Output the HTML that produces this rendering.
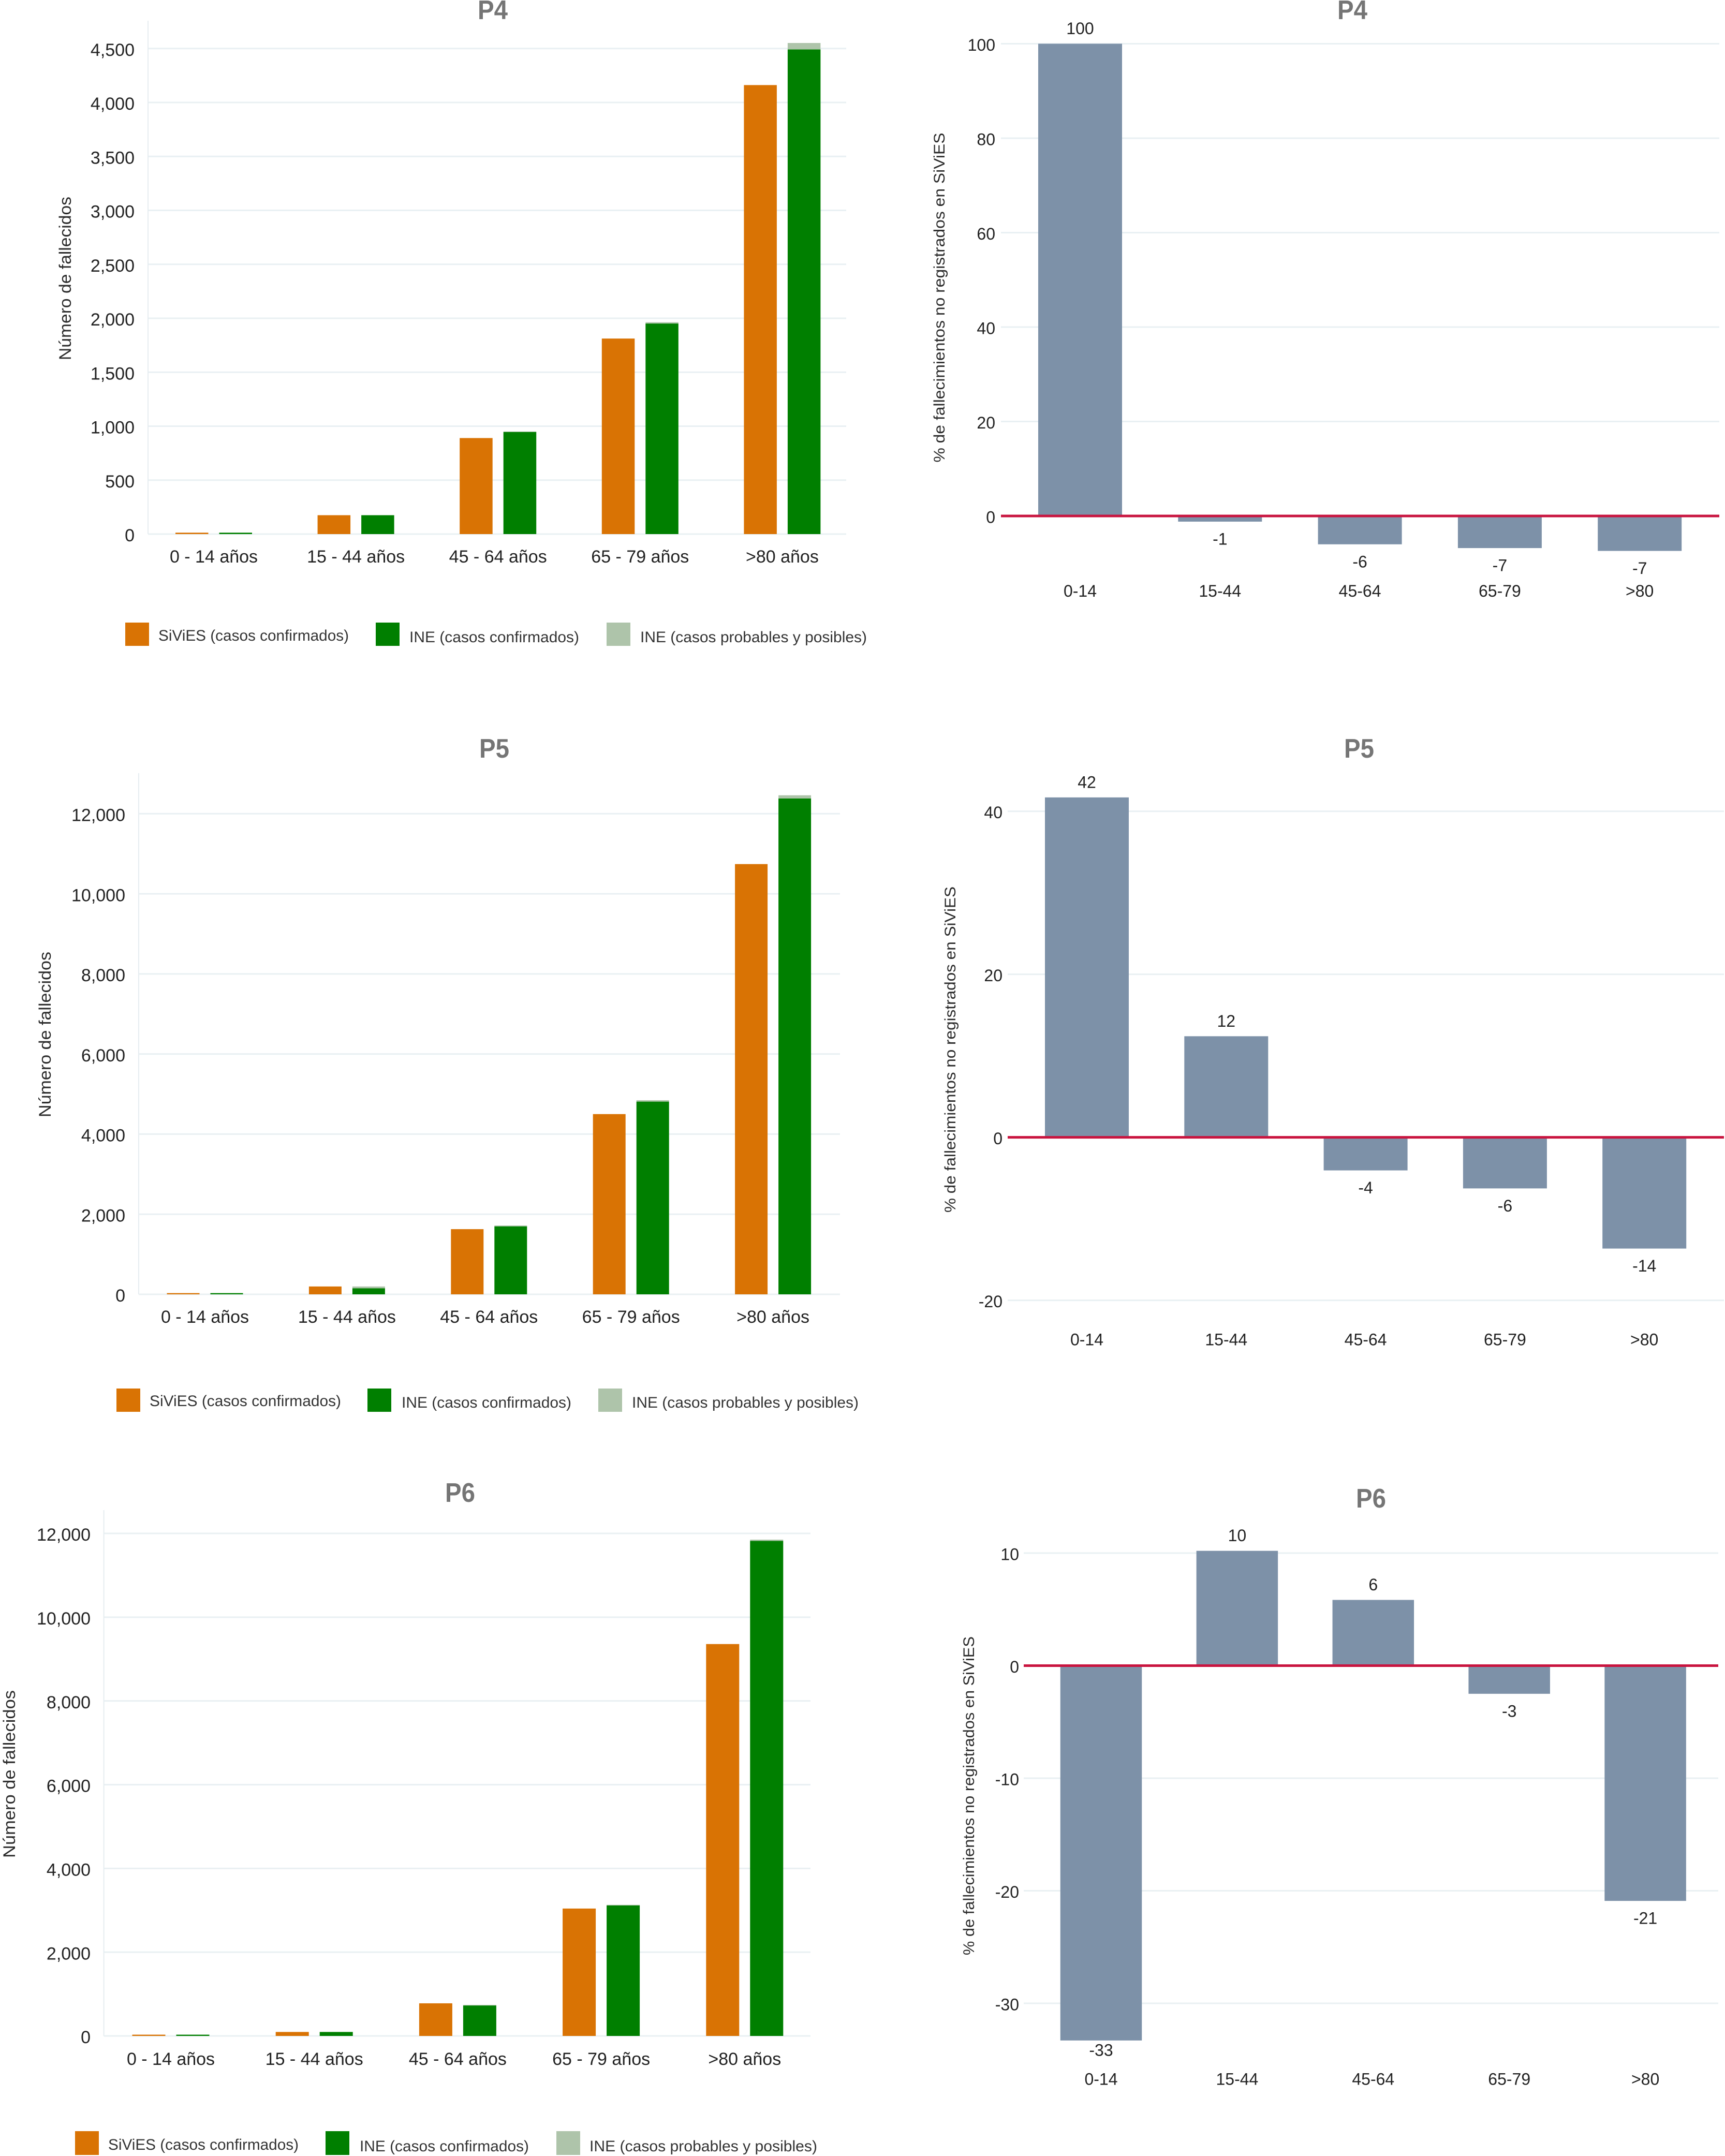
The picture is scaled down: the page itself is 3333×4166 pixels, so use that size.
<!DOCTYPE html>
<html lang="es">
<head>
<meta charset="utf-8">
<title>Fallecidos por grupo de edad: P4, P5, P6</title>
<style>
  html, body { margin: 0; padding: 0; background: #fff; }
  svg { display: block; font-family: "Liberation Sans", sans-serif; }
</style>
</head>
<body>
<svg id="figure" xmlns="http://www.w3.org/2000/svg" width="3333" height="4166" viewBox="0 0 3333 4166"></svg>
<script>
// ---------- data ----------
const ageLabels = ['0 - 14 años', '15 - 44 años', '45 - 64 años', '65 - 79 años', '>80 años'];
const ageLabelsShort = ['0-14', '15-44', '45-64', '65-79', '>80'];
const legendLabels = ['SiViES (casos confirmados)', 'INE (casos confirmados)', 'INE (casos probables y posibles)'];

const p4Ticks = [0, 500, 1000, 1500, 2000, 2500, 3000, 3500, 4000, 4500];
const p4Sivies = [13, 175, 890, 1812, 4161];
const p4IneConfirmed = [13, 175, 946, 1951, 4491];
const p4IneProbable = [0, 0, 5, 12, 60];

const p5Ticks = [0, 2000, 4000, 6000, 8000, 10000, 12000];
const p5Sivies = [30, 196, 1627, 4500, 10742];
const p5IneConfirmed = [30, 150, 1696, 4811, 12380];
const p5IneProbable = [0, 46, 23, 35, 80];

const p6Ticks = [0, 2000, 4000, 6000, 8000, 10000, 12000];
const p6Sivies = [30, 95, 779, 3042, 9358];
const p6IneConfirmed = [30, 95, 726, 3116, 11821];
const p6IneProbable = [0, 0, 15, 15, 30];

const p4DiffTicks = [0, 20, 40, 60, 80, 100];
const p4DiffValues = [100, -1.2, -6, -6.8, -7.4];
const p4DiffLabels = ['100', '-1', '-6', '-7', '-7'];

const p5DiffTicks = [-20, 0, 20, 40];
const p5DiffValues = [41.7, 12.4, -4.06, -6.27, -13.65];
const p5DiffLabels = ['42', '12', '-4', '-6', '-14'];

const p6DiffTicks = [-30, -20, -10, 0, 10];
const p6DiffValues = [-33.3, 10.2, 5.84, -2.5, -20.9];
const p6DiffLabels = ['-33', '10', '6', '-3', '-21'];

// ---------- drawing helpers ----------
const NS = 'http://www.w3.org/2000/svg';
const root = document.getElementById('figure');
const COLORS = { orange: '#d97304', green: '#007f00', light: '#aec4aa', slate: '#7d91a8', red: '#c9143f', grid: '#e9f0f3', axis: '#e6edf1' };

function group(parent, name) {
  const el = document.createElementNS(NS, 'g');
  
  
  parent.appendChild(el);
  return el;
}
function rect(parent, x, y, w, h, fill, name) {
  const el = document.createElementNS(NS, 'rect');
  el.setAttribute('x', x);
  el.setAttribute('y', y);
  el.setAttribute('width', w);
  el.setAttribute('height', h);
  el.setAttribute('fill', fill);
  
  
  parent.appendChild(el);
  return el;
}
function line(parent, x1, y1, x2, y2, stroke, width, name) {
  const el = document.createElementNS(NS, 'line');
  el.setAttribute('x1', x1);
  el.setAttribute('y1', y1);
  el.setAttribute('x2', x2);
  el.setAttribute('y2', y2);
  el.setAttribute('stroke', stroke);
  el.setAttribute('stroke-width', width);
  
  
  parent.appendChild(el);
  return el;
}
function label(parent, x, y, str, size, anchor, fill, name, fit, weight, rotate) {
  const el = document.createElementNS(NS, 'text');
  el.setAttribute('x', x);
  el.setAttribute('y', y);
  el.setAttribute('font-size', size);
  el.setAttribute('text-anchor', anchor);
  el.setAttribute('fill', fill);
  if (fit) { el.setAttribute('textLength', fit); el.setAttribute('lengthAdjust', 'spacingAndGlyphs'); }
  if (weight) el.setAttribute('font-weight', weight);
  if (rotate) el.setAttribute('transform', 'rotate(-90 ' + x + ' ' + y + ')');
  el.textContent = str;
  
  
  parent.appendChild(el);
  return el;
}
function midBase(y, size) { return y + size * 0.36; }
function fmt(v) { return String(v).replace(/\B(?=(\d{3})+(?!\d))/g, ','); }

// ---------- grouped bars (left column) ----------
function drawCounts(cfg) {
  const g = group(root, cfg.id + '-count-chart');
  const yScale = v => cfg.y0 - v * (cfg.y0 - cfg.yRef) / cfg.vRef;
  const xCenter = i => cfg.c0 + cfg.step * i;

  label(g, cfg.titleX, cfg.titleBase, cfg.title, 52, 'middle', '#757575', cfg.id + '-count-title', 58, 'bold');
  label(g, cfg.yTitleX + 11, cfg.yTitleC, 'Número de fallecidos', 32, 'middle', '#2b2b2b', 'y-axis-title', cfg.yTitleLen, null, true);

  cfg.ticks.forEach(t => {
    if (t !== 0) line(g, cfg.axisX, yScale(t), cfg.right, yScale(t), COLORS.grid, 3, 'gridline-' + t);
    label(g, cfg.tickRight, midBase(yScale(t), 34) + 2, fmt(t), 34, 'end', '#222', 'y-tick-' + t);
  });
  line(g, cfg.axisX, cfg.top, cfg.axisX, cfg.y0, COLORS.axis, 2, 'y-axis-line');
  line(g, cfg.axisX, cfg.y0, cfg.right, cfg.y0, COLORS.grid, 3, 'x-axis-line');

  ageLabels.forEach((cat, i) => {
    const c = xCenter(i);
    const orangeTop = yScale(cfg.sivies[i]);
    const greenTop = yScale(cfg.ine[i]);
    const probTop = yScale(cfg.ine[i] + cfg.prob[i]);
    const bw = cfg.barW, gap = cfg.gap;
    rect(g, c - gap / 2 - bw, orangeTop, bw, cfg.y0 - orangeTop, COLORS.orange, 'bar-sivies-' + ageLabelsShort[i]);
    rect(g, c + gap / 2, probTop, bw, greenTop - probTop, COLORS.light, 'bar-ine-probable-' + ageLabelsShort[i]);
    rect(g, c + gap / 2, greenTop, bw, cfg.y0 - greenTop, COLORS.green, 'bar-ine-confirmed-' + ageLabelsShort[i]);
    label(g, c, midBase(cfg.xLabelY, 34), cat, 34, 'middle', '#222', 'x-tick-' + ageLabelsShort[i]);
  });

  const legend = group(g, 'legend');
  const colors = [COLORS.orange, COLORS.green, COLORS.light];
  legendLabels.forEach((txt, i) => {
    const e = cfg.legend[i];
    const entry = group(legend, 'legend-entry-' + (i + 1));
    rect(entry, e.sx, cfg.swTop, 46, cfg.swH, colors[i], 'legend-swatch-' + (i + 1));
    label(entry, e.tx, midBase(e.ty, 30), txt, 30, 'start', '#333', 'legend-label-' + (i + 1), e.tw);
  });
}

// ---------- difference bars (right column) ----------
function drawDiff(cfg) {
  const g = group(root, cfg.id + '-diff-chart');
  const yScale = v => cfg.y0 - v * cfg.pxPerUnit;
  const xCenter = i => cfg.c0 + cfg.step * i;

  label(g, cfg.titleX, cfg.titleBase, cfg.title, 52, 'middle', '#757575', cfg.id + '-diff-title', 58, 'bold');
  label(g, cfg.yTitleX + 10, cfg.yTitleC, '% de fallecimientos no registrados en SiViES', 30, 'middle', '#2b2b2b', 'y-axis-title', cfg.yTitleLen, null, true);

  cfg.ticks.forEach(t => {
    if (t !== 0) line(g, cfg.left, yScale(t), cfg.right, yScale(t), COLORS.grid, 3, 'gridline-' + t);
    label(g, cfg.tickRight, midBase(yScale(t), 32) + 2, String(t), 32, 'end', '#222', 'y-tick-' + t);
  });

  cfg.values.forEach((v, i) => {
    const c = xCenter(i);
    const yv = yScale(v);
    const top = Math.min(yv, cfg.y0);
    rect(g, c - cfg.barW / 2, top, cfg.barW, Math.abs(yv - cfg.y0), COLORS.slate, 'bar-' + ageLabelsShort[i]);
    const ly = v >= 0 ? yv - 30 : Math.min(yv + 33, cfg.labelMax);
    label(g, c, midBase(ly, 32), cfg.labels[i], 32, 'middle', '#222', 'value-label-' + ageLabelsShort[i]);
    label(g, c, midBase(cfg.xLabelY, 32), ageLabelsShort[i], 32, 'middle', '#222', 'x-tick-' + ageLabelsShort[i]);
  });

  line(g, cfg.left, cfg.y0, cfg.right, cfg.y0, COLORS.red, 5, 'zero-reference-line');
}

// ---------- layout ----------
drawCounts({
  id: 'p4', title: 'P4', titleX: 952, titleBase: 37,
  axisX: 286, right: 1635, top: 40, y0: 1032, yRef: 93.7, vRef: 4500,
  c0: 413, step: 274.6, barW: 63.5, gap: 21, tickRight: 260, xLabelY: 1075,
  yTitleX: 126, yTitleC: 538, yTitleLen: 316,
  ticks: p4Ticks, sivies: p4Sivies, ine: p4IneConfirmed, prob: p4IneProbable,
  swTop: 1203, swH: 45,
  legend: [{ sx: 242, tx: 306, ty: 1227, tw: 368 }, { sx: 726, tx: 791, ty: 1230, tw: 328 }, { sx: 1172, tx: 1237, ty: 1230, tw: 438 }]
});
drawCounts({
  id: 'p5', title: 'P5', titleX: 955, titleBase: 1464,
  axisX: 268, right: 1623, top: 1494, y0: 2501, yRef: 1572.3, vRef: 12000,
  c0: 396, step: 274.4, barW: 63, gap: 21, tickRight: 242, xLabelY: 2544,
  yTitleX: 87, yTitleC: 1999, yTitleLen: 320,
  ticks: p5Ticks, sivies: p5Sivies, ine: p5IneConfirmed, prob: p5IneProbable,
  swTop: 2683, swH: 45,
  legend: [{ sx: 225, tx: 289, ty: 2706, tw: 370 }, { sx: 710, tx: 776, ty: 2709, tw: 328 }, { sx: 1156, tx: 1221, ty: 2709, tw: 438 }]
});
drawCounts({
  id: 'p6', title: 'P6', titleX: 889, titleBase: 2902,
  axisX: 200.6, right: 1566, top: 2918, y0: 3934, yRef: 2963, vRef: 12000,
  c0: 330, step: 277.2, barW: 64, gap: 21, tickRight: 175, xLabelY: 3978,
  yTitleX: 18, yTitleC: 3428, yTitleLen: 324,
  ticks: p6Ticks, sivies: p6Sivies, ine: p6IneConfirmed, prob: p6IneProbable,
  swTop: 4118, swH: 46,
  legend: [{ sx: 145, tx: 209, ty: 4143, tw: 368 }, { sx: 629, tx: 695, ty: 4146, tw: 327 }, { sx: 1075, tx: 1139, ty: 4146, tw: 440 }]
});

drawDiff({
  id: 'p4', title: 'P4', titleX: 2613, titleBase: 37,
  left: 1934, right: 3322, y0: 997, pxPerUnit: 9.125,
  c0: 2087, step: 270.3, barW: 162, tickRight: 1923, xLabelY: 1141.6, labelMax: 1098,
  yTitleX: 1815, yTitleC: 575, yTitleLen: 637,
  ticks: p4DiffTicks, values: p4DiffValues, labels: p4DiffLabels
});
drawDiff({
  id: 'p5', title: 'P5', titleX: 2626, titleBase: 1464,
  left: 1947, right: 3331, y0: 2197.6, pxPerUnit: 15.75,
  c0: 2100, step: 269.3, barW: 162, tickRight: 1937, xLabelY: 2588, labelMax: 2450,
  yTitleX: 1836, yTitleC: 2028, yTitleLen: 630,
  ticks: p5DiffTicks, values: p5DiffValues, labels: p5DiffLabels
});
drawDiff({
  id: 'p6', title: 'P6', titleX: 2649, titleBase: 2913,
  left: 1978, right: 3320, y0: 3218.5, pxPerUnit: 21.75,
  c0: 2127.5, step: 262.9, barW: 157.5, tickRight: 1969, xLabelY: 4017, labelMax: 3961,
  yTitleX: 1872, yTitleC: 3470, yTitleLen: 616,
  ticks: p6DiffTicks, values: p6DiffValues, labels: p6DiffLabels
});
</script>
</body>
</html>
